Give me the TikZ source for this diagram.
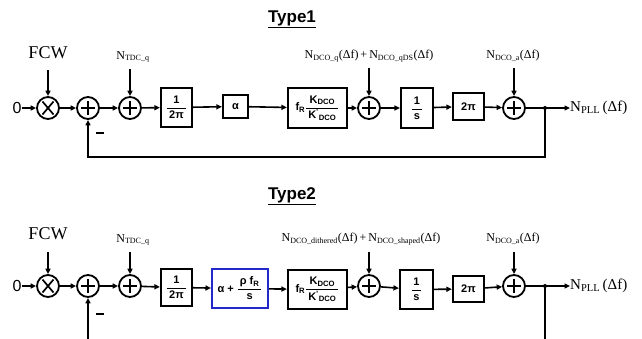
\documentclass[tikz,border=0pt]{standalone}
\usepackage{fontspec}
\setmainfont{Liberation Serif}
\setsansfont{Liberation Sans}
\usetikzlibrary{arrows.meta}
\definecolor{boxblue}{RGB}{35,40,200}
\newcommand\fsz[1]{\fontsize{#1}{#1}\selectfont}
\newcommand\blkfrac[2]{$\displaystyle\frac{\mbox{\,#1\,}}{\mbox{\,#2\,}}$}

\tikzset{
  wire/.style={line width=1.6pt, -{Triangle[length=5.5pt,width=5pt]}},
  plain/.style={line width=1.6pt},
  blk/.style={draw, line width=2.2pt, inner sep=0pt, font=\sffamily\bfseries\fsz{11}},
  sumnode/.style={circle, draw, line width=1.8pt, minimum size=22pt, inner sep=0pt,
    path picture={\draw[line width=1.4pt]
      ([xshift=-7pt]path picture bounding box.center) -- ([xshift=7pt]path picture bounding box.center)
      ([yshift=-7pt]path picture bounding box.center) -- ([yshift=7pt]path picture bounding box.center);}},
  mulnode/.style={circle, draw, line width=1.8pt, minimum size=22pt, inner sep=0pt,
    path picture={\draw[line width=1.7pt]
      ([xshift=-5.5pt,yshift=-6.5pt]path picture bounding box.center) -- ([xshift=5.5pt,yshift=6.5pt]path picture bounding box.center)
      ([xshift=-5.5pt,yshift=6.5pt]path picture bounding box.center) -- ([xshift=5.5pt,yshift=-6.5pt]path picture bounding box.center);}},
  lbl/.style={inner sep=0pt, font=\fsz{12}},
  bigl/.style={inner sep=0pt, font=\fsz{18}},
  title/.style={inner sep=0pt, font=\sffamily\bfseries\fsz{17}},
  zero/.style={inner sep=0pt, font=\sffamily\fsz{16}},
  minus/.style={inner sep=0pt},
}

\begin{document}
\begin{tikzpicture}[x=1pt,y=1pt]
\useasboundingbox (0,0) rectangle (642,-338);

% ---------------- Type 1 ----------------
\node[title] (t1) at (292,-19) {\underline{Type1}};

\node[zero] (zA) at (17,-108) {0};
\node[mulnode] (mA) at (48,-108) {};
\node[sumnode] (s1A) at (88,-108) {};
\node[sumnode] (s2A) at (130,-108) {};
\node[blk, minimum width=31pt, minimum height=39pt] (b1A) at (176.5,-107.5) {\blkfrac{1}{2π}};
\node[blk, minimum width=25pt, minimum height=23pt] (b2A) at (235.5,-106.5) {α};
\node[blk, minimum width=59pt, minimum height=40pt] (b3A) at (317.5,-108) {f\textsubscript{R}\blkfrac{K\textsubscript{DCO}}{K\textsuperscript{'}\textsubscript{DCO}}};
\node[sumnode] (s3A) at (369,-108) {};
\node[blk, minimum width=32pt, minimum height=40pt] (b4A) at (417,-108) {\blkfrac{1}{s}};
\node[blk, minimum width=31pt, minimum height=27pt] (b5A) at (468.5,-106.5) {2π};
\node[sumnode] (s4A) at (514,-108) {};
\coordinate (jA) at (545,-108);
\node[inner sep=0pt, anchor=west, font=\fsz{15}] (oA) at (570,-108) {N\textsubscript{PLL}\,(Δf)};

\node[bigl] (fcwA) at (48,-53) {FCW};
\node[lbl] (ntA) at (133,-57) {N\textsubscript{TDC\_q}};
\node[lbl] (ndA) at (369,-56) {N\textsubscript{DCO\_q}(Δf)\,+\,N\textsubscript{DCO\_qDS}(Δf)};
\node[lbl] (naA) at (513,-56) {N\textsubscript{DCO\_a}(Δf)};
\coordinate (fcwAin) at (48,-70);
\coordinate (ntAin) at (130,-69);
\coordinate (ndAin) at (369,-68);
\coordinate (naAin) at (514,-68);
\coordinate (fbA) at (0,-157);
\node[minus] (mnA) at (100,-133) {\rule{8pt}{2.2pt}};

\draw[wire] (zA) -- (mA);
\draw[wire] (mA) -- (s1A);
\draw[wire] (s1A) -- (s2A);
\draw[wire] (s2A) -- (b1A);
\draw[wire] (b1A) -- (b2A);
\draw[wire] (b2A) -- (b3A);
\draw[wire] (b3A) -- (s3A);
\draw[wire] (s3A) -- (b4A);
\draw[wire] (b4A) -- (b5A);
\draw[wire] (b5A) -- (s4A);
\draw[wire] (s4A) -- (oA);
\fill (jA) circle (2pt);
\draw[wire] (fcwAin) -- (mA);
\draw[wire] (ntAin) -- (s2A);
\draw[wire] (ndAin) -- (s3A);
\draw[wire] (naAin) -- (s4A);
\draw[wire] (jA) -- (jA |- fbA) -| (s1A.south);

% ---------------- Type 2 ----------------
\node[title] (t2) at (292,-196) {\underline{Type2}};

\node[zero] (zB) at (17,-286) {0};
\node[mulnode] (mB) at (48,-286) {};
\node[sumnode] (s1B) at (88,-286) {};
\node[sumnode] (s2B) at (130,-286) {};
\node[blk, minimum width=31pt, minimum height=37pt] (b1B) at (176.5,-287.5) {\blkfrac{1}{2π}};
\node[blk, draw=boxblue, line width=2pt, minimum width=56pt, minimum height=39pt] (b2B) at (240,-288.5) {α + \blkfrac{ρ f\textsubscript{R}}{s}};
\node[blk, minimum width=59pt, minimum height=39pt] (b3B) at (317.5,-289.5) {f\textsubscript{R}\blkfrac{K\textsubscript{DCO}}{K\textsuperscript{'}\textsubscript{DCO}}};
\node[sumnode] (s3B) at (369,-286) {};
\node[blk, minimum width=33pt, minimum height=39pt] (b4B) at (416.5,-289.5) {\blkfrac{1}{s}};
\node[blk, minimum width=31pt, minimum height=26pt] (b5B) at (468.5,-289) {2π};
\node[sumnode] (s4B) at (514,-286) {};
\coordinate (jB) at (545,-286);
\node[inner sep=0pt, anchor=west, font=\fsz{15}] (oB) at (570,-286) {N\textsubscript{PLL}\,(Δf)};

\node[bigl] (fcwB) at (48,-234) {FCW};
\node[lbl] (ntB) at (133,-240) {N\textsubscript{TDC\_q}};
\node[lbl] (ndB) at (361,-239) {N\textsubscript{DCO\_dithered}(Δf)\,+\,N\textsubscript{DCO\_shaped}(Δf)};
\node[lbl] (naB) at (513,-239) {N\textsubscript{DCO\_a}(Δf)};
\coordinate (fcwBin) at (48,-252);
\coordinate (ntBin) at (130,-252);
\coordinate (ndBin) at (369,-252);
\coordinate (naBin) at (514,-252);
\coordinate (fbB) at (0,-340);
\node[minus] (mnB) at (100,-314) {\rule{8pt}{2.2pt}};

\draw[wire] (zB) -- (mB);
\draw[wire] (mB) -- (s1B);
\draw[wire] (s1B) -- (s2B);
\draw[wire] (s2B) -- (b1B);
\draw[wire] (b1B) -- (b2B);
\draw[wire] (b2B) -- (b3B);
\draw[wire] (b3B) -- (s3B);
\draw[wire] (s3B) -- (b4B);
\draw[wire] (b4B) -- (b5B);
\draw[wire] (b5B) -- (s4B);
\draw[wire] (s4B) -- (oB);
\fill (jB) circle (2pt);
\draw[wire] (fcwBin) -- (mB);
\draw[wire] (ntBin) -- (s2B);
\draw[wire] (ndBin) -- (s3B);
\draw[wire] (naBin) -- (s4B);
\draw[plain] (jB) -- (jB |- fbB);
\draw[wire] (s1B |- fbB) -- (s1B.south);
\end{tikzpicture}
\end{document}
